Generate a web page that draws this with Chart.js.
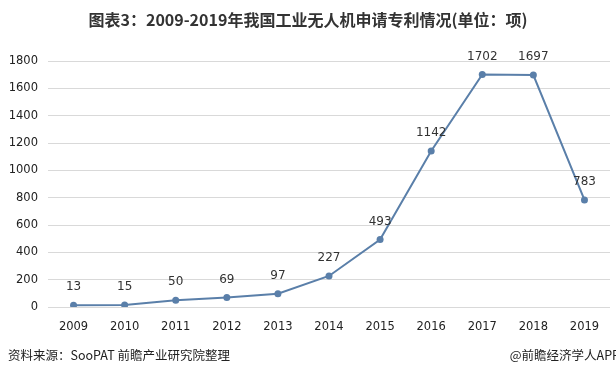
<!DOCTYPE html>
<html><head><meta charset="utf-8">
<script src="https://cdn.jsdelivr.net/npm/chart.js@4/dist/chart.umd.min.js"></script>
<style>
html,body{margin:0;padding:0;background:#fff;}
#wrap{position:relative;width:616px;height:375px;overflow:hidden;font-family:"Noto Sans CJK SC","Microsoft YaHei",sans-serif;}
#title{position:absolute;left:0;top:7px;width:616px;text-align:center;font-size:16px;font-weight:bold;color:#333;}
#src{position:absolute;left:8px;top:345px;font-size:12.5px;color:#222;}
#app{position:absolute;right:-4px;top:345px;font-size:12.5px;color:#222;}
canvas{position:absolute;left:0;top:0;}
</style></head><body>
<div id="wrap">
<canvas id="c" width="616" height="375"></canvas>
<div id="title">图表3：2009-2019年我国工业无人机申请专利情况(单位：项)</div>
<div id="src">资料来源：SooPAT 前瞻产业研究院整理</div>
<div id="app">@前瞻经济学人APP</div>
</div>
<script>
const years = ["2009","2010","2011","2012","2013","2014","2015","2016","2017","2018","2019"];
const patents = [13,15,50,69,97,227,493,1142,1702,1697,783];
const yTicks = [0,200,400,600,800,1000,1200,1400,1600,1800];

const labelPlugin = {
  id:'labels',
  afterDatasetsDraw(chart){
    const ctx = chart.ctx;
    const meta = chart.getDatasetMeta(0);
    ctx.save();
    ctx.font = '12px "DejaVu Sans", sans-serif';
    ctx.fillStyle = '#333';
    ctx.textAlign = 'center';
    ctx.textBaseline = 'middle';
    meta.data.forEach((pt,i)=>{
      ctx.fillText(String(patents[i]), pt.x, pt.y - 18);
    });
    ctx.restore();
  }
};

new Chart(document.getElementById('c'),{
  type:'line',
  data:{labels:years,datasets:[{data:patents,borderColor:'#5A7FA9',backgroundColor:'#5A7FA9',borderWidth:2,pointRadius:3.5,pointBackgroundColor:'#5A7FA9',pointBorderWidth:0,tension:0}]},
  options:{
    responsive:false,animation:false,
    layout:{padding:{top:61,right:6,left:0,bottom:0}},
    plugins:{legend:{display:false},tooltip:{enabled:false}},
    scales:{
      x:{offset:true,grid:{display:false},border:{display:false},
        ticks:{color:'#222',font:{size:11.5,family:'"DejaVu Sans", sans-serif'},padding:5},
        afterFit(s){s.height=68;}},
      y:{min:0,max:1800,afterBuildTicks(s){s.ticks=yTicks.map(v=>({value:v}));},
        grid:{color:'#d9d9d9',drawTicks:false},border:{display:false},
        ticks:{color:'#222',font:{size:11.5,family:'"DejaVu Sans", sans-serif'},padding:10,callback:v=>String(v)},
        afterFit(s){s.width=48;}}
    }
  },
  plugins:[labelPlugin]
});
</script>
</body></html>
